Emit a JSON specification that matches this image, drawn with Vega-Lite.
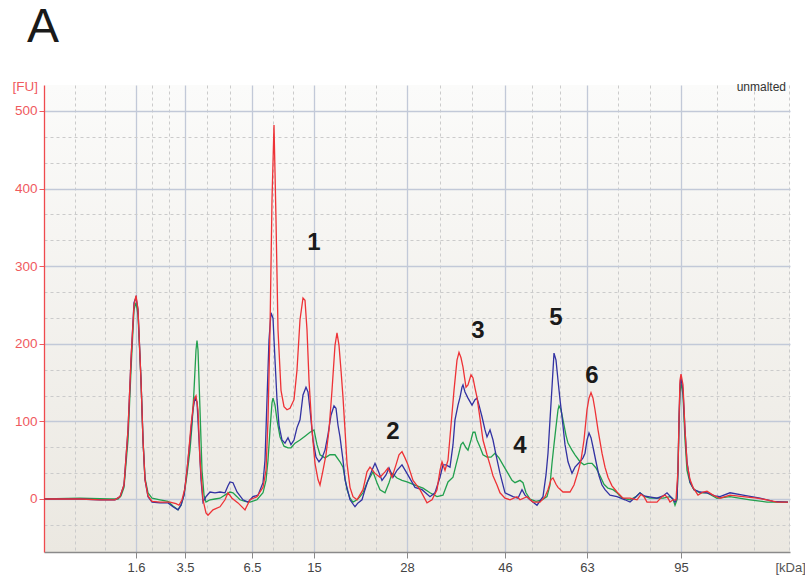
{
  "$schema": "https://vega.github.io/schema/vega-lite/v6.json",
  "width": 746,
  "height": 467,
  "autosize": {"type": "none"},
  "padding": {"left": 44, "top": 85, "right": 15, "bottom": 35},
  "background": "#ffffff",
  "config": {
    "view": {"stroke": null, "fill": {"gradient": "linear", "x1": 0, "y1": 0, "x2": 0, "y2": 1, "stops": [{"offset": 0, "color": "#fbfbfa"}, {"offset": 1, "color": "#ebe8e1"}]}},
    "font": "Liberation Sans"
  },
  "title": {"text": "A", "anchor": "start", "frame": "group", "fontSize": 48, "fontWeight": "normal", "font": "Liberation Sans", "color": "#1a1a1a", "dx": -17, "offset": 27},
  "datasets": {
    "red": [
      {"time":0,"fu":0},{"time":1.6,"fu":0},{"time":3.6,"fu":0},{"time":5.6,"fu":-1},{"time":7.1,"fu":-1},{"time":7.6,"fu":3},{"time":8.0,"fu":18},{"time":8.4,"fu":89},{"time":8.7,"fu":179},{"time":9.0,"fu":250},{"time":9.2,"fu":262},{"time":9.4,"fu":244},{"time":9.7,"fu":153},{"time":9.9,"fu":76},{"time":10.1,"fu":25},{"time":10.4,"fu":4},{"time":10.8,"fu":-3},{"time":11.6,"fu":-4},{"time":12.6,"fu":-4},{"time":13.2,"fu":-6},{"time":13.5,"fu":-8},{"time":13.8,"fu":-1},{"time":14.1,"fu":14},{"time":14.4,"fu":50},{"time":14.7,"fu":95},{"time":15.0,"fu":128},{"time":15.2,"fu":133},{"time":15.4,"fu":115},{"time":15.6,"fu":50},{"time":15.9,"fu":-1},{"time":16.2,"fu":-18},{"time":16.4,"fu":-21},{"time":16.9,"fu":-14},{"time":17.6,"fu":-10},{"time":18.1,"fu":-1},{"time":18.4,"fu":8},{"time":18.8,"fu":1},{"time":19.4,"fu":-5},{"time":20.1,"fu":-14},{"time":20.6,"fu":-1},{"time":21.3,"fu":3},{"time":21.9,"fu":15},{"time":22.2,"fu":37},{"time":22.4,"fu":102},{"time":22.6,"fu":218},{"time":22.8,"fu":385},{"time":23.0,"fu":482},{"time":23.2,"fu":360},{"time":23.4,"fu":218},{"time":23.7,"fu":140},{"time":24.0,"fu":119},{"time":24.3,"fu":115},{"time":24.6,"fu":117},{"time":25.0,"fu":128},{"time":25.3,"fu":166},{"time":25.6,"fu":231},{"time":25.9,"fu":259},{"time":26.1,"fu":256},{"time":26.3,"fu":218},{"time":26.5,"fu":153},{"time":26.8,"fu":89},{"time":27.1,"fu":46},{"time":27.4,"fu":25},{"time":27.6,"fu":18},{"time":27.9,"fu":37},{"time":28.2,"fu":57},{"time":28.5,"fu":89},{"time":28.8,"fu":140},{"time":29.1,"fu":198},{"time":29.3,"fu":214},{"time":29.5,"fu":198},{"time":29.7,"fu":166},{"time":29.9,"fu":131},{"time":30.1,"fu":89},{"time":30.3,"fu":46},{"time":30.6,"fu":15},{"time":30.9,"fu":3},{"time":31.3,"fu":-1},{"time":31.9,"fu":12},{"time":32.3,"fu":35},{"time":32.6,"fu":41},{"time":33.1,"fu":33},{"time":33.6,"fu":28},{"time":34.1,"fu":35},{"time":34.4,"fu":40},{"time":34.8,"fu":28},{"time":35.2,"fu":44},{"time":35.5,"fu":57},{"time":35.8,"fu":61},{"time":36.1,"fu":53},{"time":36.4,"fu":44},{"time":36.9,"fu":24},{"time":37.6,"fu":12},{"time":38.3,"fu":-5},{"time":38.8,"fu":-1},{"time":39.3,"fu":12},{"time":39.6,"fu":37},{"time":39.8,"fu":48},{"time":40.1,"fu":37},{"time":40.4,"fu":50},{"time":40.7,"fu":95},{"time":41.0,"fu":140},{"time":41.3,"fu":179},{"time":41.5,"fu":189},{"time":41.7,"fu":182},{"time":41.9,"fu":170},{"time":42.2,"fu":144},{"time":42.4,"fu":147},{"time":42.7,"fu":160},{"time":42.9,"fu":156},{"time":43.1,"fu":143},{"time":43.3,"fu":131},{"time":43.6,"fu":104},{"time":43.9,"fu":76},{"time":44.3,"fu":57},{"time":44.6,"fu":44},{"time":44.9,"fu":30},{"time":45.3,"fu":18},{"time":45.6,"fu":8},{"time":46.1,"fu":1},{"time":46.6,"fu":-1},{"time":47.3,"fu":3},{"time":47.6,"fu":-1},{"time":48.3,"fu":3},{"time":48.9,"fu":-4},{"time":49.6,"fu":-4},{"time":50.1,"fu":3},{"time":50.4,"fu":12},{"time":50.7,"fu":25},{"time":50.9,"fu":27},{"time":51.2,"fu":19},{"time":51.4,"fu":15},{"time":51.9,"fu":9},{"time":52.6,"fu":9},{"time":53.0,"fu":18},{"time":53.4,"fu":35},{"time":53.7,"fu":50},{"time":54.0,"fu":76},{"time":54.3,"fu":115},{"time":54.5,"fu":130},{"time":54.7,"fu":137},{"time":54.9,"fu":130},{"time":55.1,"fu":115},{"time":55.4,"fu":89},{"time":55.8,"fu":59},{"time":56.1,"fu":41},{"time":56.4,"fu":28},{"time":56.8,"fu":17},{"time":57.3,"fu":9},{"time":57.9,"fu":1},{"time":58.6,"fu":1},{"time":59.3,"fu":-1},{"time":59.7,"fu":6},{"time":60.0,"fu":3},{"time":60.3,"fu":-4},{"time":61.3,"fu":-4},{"time":61.8,"fu":3},{"time":62.1,"fu":5},{"time":62.4,"fu":1},{"time":62.6,"fu":-4},{"time":62.9,"fu":-1},{"time":63.2,"fu":-1},{"time":63.4,"fu":37},{"time":63.5,"fu":102},{"time":63.6,"fu":153},{"time":63.7,"fu":161},{"time":63.9,"fu":147},{"time":64.1,"fu":89},{"time":64.3,"fu":46},{"time":64.6,"fu":25},{"time":64.9,"fu":15},{"time":65.4,"fu":5},{"time":65.9,"fu":9},{"time":66.3,"fu":10},{"time":66.9,"fu":5},{"time":67.6,"fu":1},{"time":68.6,"fu":5},{"time":69.9,"fu":3},{"time":71.3,"fu":1},{"time":72.3,"fu":-1},{"time":73.3,"fu":-4},{"time":74.4,"fu":-4}
    ],
    "blue": [
      {"time":0,"fu":0},{"time":3.6,"fu":0},{"time":5.6,"fu":-1},{"time":7.1,"fu":-1},{"time":7.6,"fu":3},{"time":8.0,"fu":18},{"time":8.4,"fu":89},{"time":8.7,"fu":179},{"time":9.0,"fu":253},{"time":9.2,"fu":260},{"time":9.4,"fu":244},{"time":9.7,"fu":153},{"time":9.9,"fu":76},{"time":10.1,"fu":25},{"time":10.4,"fu":3},{"time":10.8,"fu":-4},{"time":11.6,"fu":-5},{"time":12.4,"fu":-5},{"time":12.9,"fu":-10},{"time":13.4,"fu":-14},{"time":13.7,"fu":-8},{"time":14.0,"fu":5},{"time":14.3,"fu":37},{"time":14.6,"fu":76},{"time":14.9,"fu":115},{"time":15.1,"fu":130},{"time":15.3,"fu":125},{"time":15.5,"fu":76},{"time":15.7,"fu":25},{"time":15.9,"fu":-4},{"time":16.2,"fu":3},{"time":16.6,"fu":9},{"time":17.1,"fu":8},{"time":17.6,"fu":9},{"time":18.1,"fu":8},{"time":18.4,"fu":17},{"time":18.6,"fu":22},{"time":18.9,"fu":21},{"time":19.3,"fu":9},{"time":19.9,"fu":-1},{"time":20.4,"fu":-4},{"time":20.9,"fu":3},{"time":21.4,"fu":5},{"time":21.9,"fu":21},{"time":22.1,"fu":50},{"time":22.3,"fu":128},{"time":22.5,"fu":205},{"time":22.7,"fu":240},{"time":22.9,"fu":233},{"time":23.1,"fu":179},{"time":23.3,"fu":128},{"time":23.5,"fu":95},{"time":23.8,"fu":76},{"time":24.1,"fu":72},{"time":24.4,"fu":79},{"time":24.7,"fu":70},{"time":25.0,"fu":76},{"time":25.3,"fu":92},{"time":25.6,"fu":102},{"time":25.9,"fu":134},{"time":26.2,"fu":144},{"time":26.4,"fu":138},{"time":26.6,"fu":115},{"time":26.9,"fu":76},{"time":27.2,"fu":54},{"time":27.5,"fu":48},{"time":27.8,"fu":53},{"time":28.1,"fu":63},{"time":28.4,"fu":83},{"time":28.7,"fu":108},{"time":29.0,"fu":120},{"time":29.2,"fu":117},{"time":29.4,"fu":95},{"time":29.6,"fu":80},{"time":29.9,"fu":50},{"time":30.1,"fu":25},{"time":30.6,"fu":-1},{"time":31.1,"fu":-10},{"time":31.4,"fu":-5},{"time":31.8,"fu":-1},{"time":32.1,"fu":12},{"time":32.4,"fu":24},{"time":32.8,"fu":37},{"time":33.1,"fu":46},{"time":33.4,"fu":37},{"time":33.8,"fu":24},{"time":34.2,"fu":31},{"time":34.5,"fu":40},{"time":34.9,"fu":28},{"time":35.3,"fu":37},{"time":35.8,"fu":44},{"time":36.3,"fu":33},{"time":36.7,"fu":24},{"time":37.1,"fu":15},{"time":37.8,"fu":12},{"time":38.6,"fu":3},{"time":39.1,"fu":8},{"time":39.6,"fu":28},{"time":39.9,"fu":44},{"time":40.2,"fu":44},{"time":40.6,"fu":41},{"time":40.9,"fu":70},{"time":41.1,"fu":102},{"time":41.4,"fu":121},{"time":41.6,"fu":131},{"time":41.8,"fu":144},{"time":41.9,"fu":147},{"time":42.1,"fu":138},{"time":42.4,"fu":130},{"time":42.8,"fu":121},{"time":43.1,"fu":128},{"time":43.3,"fu":130},{"time":43.5,"fu":121},{"time":43.8,"fu":106},{"time":44.1,"fu":89},{"time":44.3,"fu":80},{"time":44.6,"fu":89},{"time":44.9,"fu":76},{"time":45.2,"fu":57},{"time":45.6,"fu":33},{"time":46.1,"fu":8},{"time":46.9,"fu":3},{"time":47.4,"fu":1},{"time":47.8,"fu":12},{"time":48.1,"fu":5},{"time":48.6,"fu":-1},{"time":49.3,"fu":-8},{"time":49.9,"fu":3},{"time":50.2,"fu":31},{"time":50.4,"fu":59},{"time":50.6,"fu":102},{"time":50.8,"fu":144},{"time":51.0,"fu":188},{"time":51.2,"fu":179},{"time":51.4,"fu":153},{"time":51.6,"fu":128},{"time":51.8,"fu":106},{"time":52.1,"fu":70},{"time":52.4,"fu":48},{"time":52.8,"fu":33},{"time":53.1,"fu":41},{"time":53.6,"fu":48},{"time":53.9,"fu":53},{"time":54.1,"fu":59},{"time":54.3,"fu":76},{"time":54.5,"fu":85},{"time":54.7,"fu":79},{"time":54.9,"fu":67},{"time":55.2,"fu":48},{"time":55.5,"fu":30},{"time":55.8,"fu":18},{"time":56.1,"fu":12},{"time":56.6,"fu":5},{"time":57.3,"fu":3},{"time":58.1,"fu":-1},{"time":58.6,"fu":-4},{"time":59.2,"fu":3},{"time":59.6,"fu":8},{"time":60.0,"fu":4},{"time":60.4,"fu":3},{"time":61.3,"fu":1},{"time":61.9,"fu":4},{"time":62.3,"fu":8},{"time":62.8,"fu":1},{"time":63.1,"fu":-4},{"time":63.3,"fu":1},{"time":63.4,"fu":37},{"time":63.5,"fu":102},{"time":63.6,"fu":147},{"time":63.7,"fu":156},{"time":63.9,"fu":140},{"time":64.1,"fu":89},{"time":64.3,"fu":48},{"time":64.6,"fu":22},{"time":65.0,"fu":12},{"time":65.6,"fu":9},{"time":66.3,"fu":8},{"time":67.1,"fu":4},{"time":67.6,"fu":3},{"time":68.6,"fu":8},{"time":69.9,"fu":5},{"time":71.6,"fu":1},{"time":72.9,"fu":-3},{"time":74.4,"fu":-4}
    ],
    "green": [
      {"time":0,"fu":0},{"time":3.6,"fu":1},{"time":6.6,"fu":0},{"time":7.4,"fu":0},{"time":7.7,"fu":4},{"time":8.0,"fu":15},{"time":8.4,"fu":76},{"time":8.7,"fu":166},{"time":9.0,"fu":244},{"time":9.2,"fu":253},{"time":9.4,"fu":237},{"time":9.7,"fu":153},{"time":9.9,"fu":76},{"time":10.1,"fu":27},{"time":10.4,"fu":8},{"time":10.8,"fu":1},{"time":11.6,"fu":-1},{"time":12.4,"fu":-3},{"time":12.9,"fu":-9},{"time":13.4,"fu":-14},{"time":13.7,"fu":-8},{"time":14.0,"fu":5},{"time":14.3,"fu":31},{"time":14.6,"fu":63},{"time":14.8,"fu":95},{"time":15.0,"fu":140},{"time":15.2,"fu":192},{"time":15.3,"fu":204},{"time":15.4,"fu":192},{"time":15.6,"fu":115},{"time":15.8,"fu":37},{"time":16.0,"fu":5},{"time":16.2,"fu":-4},{"time":16.6,"fu":-1},{"time":17.1,"fu":0},{"time":17.6,"fu":1},{"time":18.2,"fu":6},{"time":18.6,"fu":9},{"time":18.9,"fu":8},{"time":19.3,"fu":3},{"time":19.6,"fu":-1},{"time":20.1,"fu":-3},{"time":20.6,"fu":-4},{"time":21.3,"fu":-1},{"time":21.9,"fu":8},{"time":22.2,"fu":24},{"time":22.4,"fu":50},{"time":22.6,"fu":89},{"time":22.8,"fu":124},{"time":22.9,"fu":130},{"time":23.1,"fu":121},{"time":23.3,"fu":102},{"time":23.6,"fu":80},{"time":24.0,"fu":68},{"time":24.4,"fu":66},{"time":24.7,"fu":66},{"time":25.1,"fu":72},{"time":25.6,"fu":76},{"time":26.1,"fu":81},{"time":26.6,"fu":86},{"time":27.0,"fu":89},{"time":27.3,"fu":70},{"time":27.6,"fu":57},{"time":28.1,"fu":53},{"time":28.6,"fu":57},{"time":29.1,"fu":57},{"time":29.6,"fu":48},{"time":29.9,"fu":41},{"time":30.3,"fu":12},{"time":30.6,"fu":1},{"time":30.9,"fu":-4},{"time":31.3,"fu":-1},{"time":31.6,"fu":3},{"time":31.9,"fu":8},{"time":32.3,"fu":21},{"time":32.6,"fu":28},{"time":32.9,"fu":35},{"time":33.3,"fu":21},{"time":33.6,"fu":12},{"time":34.1,"fu":8},{"time":34.5,"fu":21},{"time":34.8,"fu":33},{"time":35.3,"fu":27},{"time":35.8,"fu":24},{"time":36.3,"fu":22},{"time":37.1,"fu":18},{"time":37.9,"fu":14},{"time":38.6,"fu":8},{"time":39.3,"fu":3},{"time":39.9,"fu":5},{"time":40.4,"fu":22},{"time":40.9,"fu":28},{"time":41.2,"fu":44},{"time":41.4,"fu":54},{"time":41.7,"fu":70},{"time":41.9,"fu":73},{"time":42.2,"fu":66},{"time":42.4,"fu":63},{"time":42.7,"fu":76},{"time":42.9,"fu":86},{"time":43.1,"fu":86},{"time":43.3,"fu":76},{"time":43.6,"fu":67},{"time":43.9,"fu":57},{"time":44.3,"fu":54},{"time":44.7,"fu":54},{"time":45.1,"fu":59},{"time":45.5,"fu":53},{"time":45.9,"fu":44},{"time":46.4,"fu":33},{"time":46.8,"fu":24},{"time":47.1,"fu":21},{"time":47.6,"fu":24},{"time":47.9,"fu":21},{"time":48.2,"fu":8},{"time":48.6,"fu":0},{"time":49.2,"fu":-3},{"time":49.8,"fu":-1},{"time":50.3,"fu":3},{"time":50.6,"fu":18},{"time":50.8,"fu":46},{"time":51.0,"fu":70},{"time":51.2,"fu":93},{"time":51.4,"fu":115},{"time":51.5,"fu":120},{"time":51.7,"fu":115},{"time":51.9,"fu":102},{"time":52.2,"fu":82},{"time":52.4,"fu":72},{"time":52.8,"fu":63},{"time":53.1,"fu":57},{"time":53.6,"fu":48},{"time":54.0,"fu":44},{"time":54.4,"fu":46},{"time":54.8,"fu":46},{"time":55.2,"fu":40},{"time":55.6,"fu":30},{"time":56.0,"fu":19},{"time":56.4,"fu":14},{"time":56.9,"fu":12},{"time":57.3,"fu":8},{"time":57.8,"fu":1},{"time":58.6,"fu":-1},{"time":59.2,"fu":3},{"time":59.6,"fu":8},{"time":60.1,"fu":3},{"time":60.6,"fu":1},{"time":61.9,"fu":1},{"time":62.6,"fu":3},{"time":62.9,"fu":0},{"time":63.1,"fu":-8},{"time":63.3,"fu":-1},{"time":63.4,"fu":37},{"time":63.5,"fu":95},{"time":63.6,"fu":138},{"time":63.7,"fu":149},{"time":63.9,"fu":134},{"time":64.1,"fu":76},{"time":64.3,"fu":37},{"time":64.6,"fu":21},{"time":65.0,"fu":12},{"time":65.6,"fu":8},{"time":66.3,"fu":8},{"time":67.3,"fu":1},{"time":68.6,"fu":3},{"time":70.6,"fu":-1},{"time":72.3,"fu":-4},{"time":74.4,"fu":-4}
    ],
    "peaks": [
      {"time":27.0,"fu":330,"label":"1"},{"time":34.9,"fu":86,"label":"2"},{"time":43.4,"fu":216,"label":"3"},{"time":47.6,"fu":68,"label":"4"},{"time":51.2,"fu":233,"label":"5"},{"time":54.8,"fu":158,"label":"6"}
    ],
    "note": [{"time":74.2,"fu":531,"label":"unmalted"}]
  },
  "encoding": {
    "x": {
      "field": "time", "type": "quantitative",
      "scale": {"domain": [0, 74.6], "nice": false, "zero": false},
      "axis": {
        "values": [3.07,6.13,9.2,10.83,12.47,14.1,16.33,18.57,20.8,22.87,24.93,27,30.1,33.2,36.3,39.57,42.83,46.1,48.83,51.57,54.3,57.43,60.57,63.7,67.33,70.97,74.5],
        "labelExpr": "datum.value==9.2?'1.6':datum.value==14.1?'3.5':datum.value==20.8?'6.5':datum.value==27?'15':datum.value==36.3?'28':datum.value==46.1?'46':datum.value==54.3?'63':datum.value==63.7?'95':''",
        "labelOverlap": false, "labelFlush": false,
        "labelFont": "Liberation Sans", "labelFontSize": 13, "labelColor": "#444444", "labelPadding": 3,
        "grid": true,
        "gridDash": {"condition": {"test": "indexof([9.2,14.1,20.8,27,36.3,46.1,54.3,63.7], datum.value) >= 0", "value": []}, "value": [3, 3]},
        "gridColor": {"condition": {"test": "indexof([9.2,14.1,20.8,27,36.3,46.1,54.3,63.7], datum.value) >= 0", "value": "#c2c9d8"}, "value": "#cbcbcb"},
        "gridWidth": {"condition": {"test": "indexof([9.2,14.1,20.8,27,36.3,46.1,54.3,63.7], datum.value) >= 0", "value": 1.3}, "value": 1},
        "tickOpacity": {"condition": {"test": "indexof([9.2,14.1,20.8,27,36.3,46.1,54.3,63.7], datum.value) >= 0", "value": 1}, "value": 0},
        "tickColor": "#8a8a8a", "tickSize": 6,
        "domainColor": "#8a8a8a", "domainWidth": 1.5,
        "title": "[kDa]", "titleFont": "Liberation Sans", "titleFontSize": 13, "titleFontWeight": "normal", "titleColor": "#555555",
        "titleX": 731, "titleY": 15, "titleAlign": "left", "titleBaseline": "middle", "titleAngle": 0
      }
    },
    "y": {
      "field": "fu", "type": "quantitative",
      "scale": {"domain": [-68.3, 533.5], "nice": false, "zero": false},
      "axis": {
        "values": [-33.33,0,33.33,66.67,100,133.33,166.67,200,233.33,266.67,300,333.33,366.67,400,433.33,466.67,500],
        "labelExpr": "datum.value % 100 === 0 ? format(datum.value, 'd') : ''",
        "labelOverlap": false, "labelFlush": false,
        "labelFont": "Liberation Sans", "labelFontSize": 13.5, "labelColor": "#ef5a5e", "labelPadding": 2,
        "grid": true,
        "gridDash": {"condition": {"test": "datum.value % 100 === 0", "value": []}, "value": [3, 3]},
        "gridColor": {"condition": {"test": "datum.value % 100 === 0", "value": "#c2c9d8"}, "value": "#cbcbcb"},
        "gridWidth": {"condition": {"test": "datum.value % 100 === 0", "value": 1.3}, "value": 1},
        "tickOpacity": {"condition": {"test": "datum.value % 100 === 0", "value": 1}, "value": 0},
        "tickColor": "#ef5a5e", "tickSize": 5,
        "domainColor": "#ef4a4e", "domainWidth": 1.3,
        "title": "[FU]", "titleFont": "Liberation Sans", "titleFontSize": 13.5, "titleFontWeight": "normal", "titleColor": "#ef5a5e",
        "titleX": -32, "titleY": 1, "titleAlign": "left", "titleBaseline": "middle", "titleAngle": 0
      }
    }
  },
  "layer": [
    {"data": {"name": "green"}, "mark": {"type": "line", "color": "#22a04e", "strokeWidth": 1.3, "clip": true}},
    {"data": {"name": "blue"}, "mark": {"type": "line", "color": "#3232a2", "strokeWidth": 1.3, "clip": true}},
    {"data": {"name": "red"}, "mark": {"type": "line", "color": "#ee3236", "strokeWidth": 1.3, "clip": true}},
    {"data": {"name": "peaks"}, "mark": {"type": "text", "font": "Liberation Sans", "fontSize": 24, "fontWeight": "bold", "color": "#1a1a1a", "align": "center", "baseline": "middle"}, "encoding": {"text": {"field": "label"}}},
    {"data": {"name": "note"}, "mark": {"type": "text", "font": "Liberation Sans", "fontSize": 12, "color": "#333333", "align": "right", "baseline": "middle"}, "encoding": {"text": {"field": "label"}}}
  ]
}
